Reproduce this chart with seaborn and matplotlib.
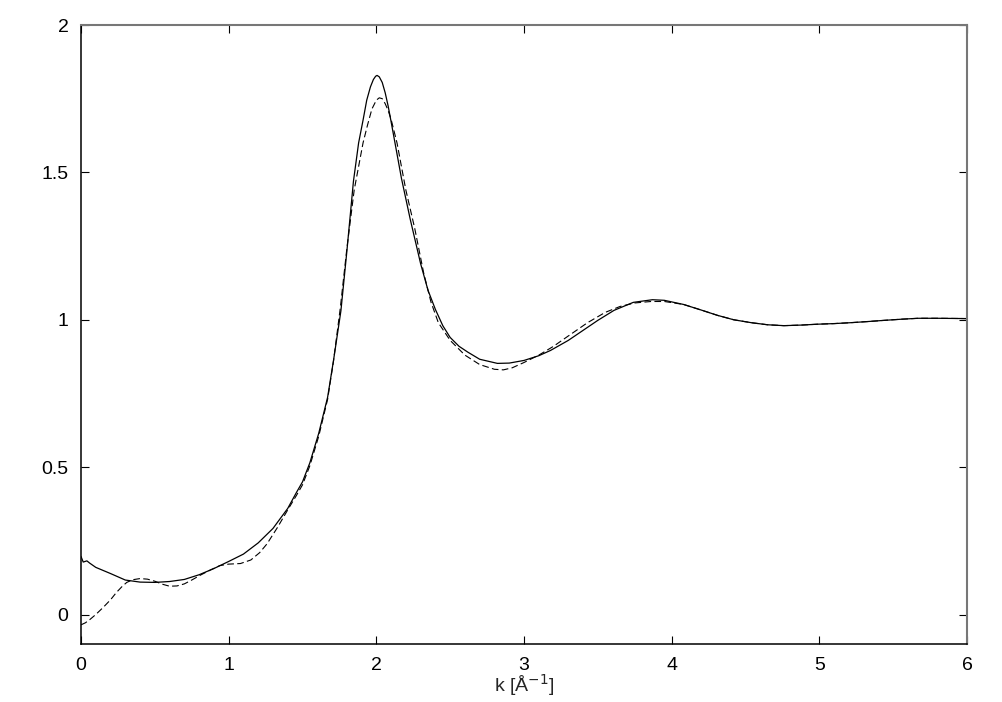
import matplotlib
matplotlib.use('Agg')
import matplotlib.pyplot as plt
import seaborn as sns
import pandas as pd

# --- data (k in 1/Angstrom, S(k)) ---
k_solid = [0.00, 0.015, 0.04, 0.06, 0.10, 0.20, 0.30, 0.40, 0.50, 0.60,
           0.70, 0.80, 0.90, 1.00, 1.10, 1.20, 1.30, 1.40, 1.46, 1.50,
           1.55, 1.61, 1.67, 1.71, 1.76, 1.80, 1.845, 1.88, 1.91, 1.935,
           1.96, 1.98, 1.995, 2.005, 2.02, 2.04, 2.06, 2.08, 2.10, 2.13,
           2.17, 2.23, 2.30, 2.35, 2.40, 2.45, 2.50, 2.56, 2.62, 2.70,
           2.82, 2.90, 3.00, 3.10, 3.18, 3.30, 3.40, 3.50, 3.61, 3.74,
           3.87, 3.95, 4.08, 4.20, 4.31, 4.42, 4.54, 4.65, 4.76, 4.88,
           4.99, 5.10, 5.21, 5.33, 5.44, 5.56, 5.67, 5.80, 6.00]
s_solid = [0.197, 0.178, 0.182, 0.174, 0.160, 0.139, 0.117, 0.110, 0.109, 0.112,
           0.119, 0.135, 0.156, 0.180, 0.205, 0.243, 0.292, 0.360, 0.415, 0.450,
           0.515, 0.615, 0.737, 0.862, 1.030, 1.230, 1.470, 1.600, 1.677, 1.745,
           1.790, 1.815, 1.826, 1.829, 1.824, 1.805, 1.770, 1.725, 1.672, 1.590,
           1.480, 1.340, 1.190, 1.100, 1.035, 0.980, 0.940, 0.910, 0.890, 0.866,
           0.852, 0.853, 0.862, 0.878, 0.896, 0.930, 0.964, 0.998, 1.032, 1.059,
           1.068, 1.066, 1.052, 1.033, 1.015, 1.000, 0.990, 0.983, 0.980, 0.982,
           0.985, 0.987, 0.990, 0.994, 0.998, 1.002, 1.005, 1.005, 1.004]

k_dashed = [0.00, 0.03, 0.06, 0.10, 0.15, 0.20, 0.24, 0.28, 0.31, 0.35,
            0.40, 0.45, 0.50, 0.55, 0.60, 0.65, 0.70, 0.75, 0.81, 0.88,
            0.94, 1.00, 1.08, 1.15, 1.21, 1.26, 1.33, 1.40, 1.46, 1.50,
            1.55, 1.61, 1.67, 1.71, 1.756, 1.80, 1.85, 1.91, 1.94, 1.97,
            2.00, 2.02, 2.04, 2.06, 2.08, 2.10, 2.14, 2.20, 2.26, 2.32,
            2.37, 2.42, 2.50, 2.60, 2.70, 2.80, 2.86, 2.92, 3.00, 3.10,
            3.20, 3.30, 3.43, 3.55, 3.65, 3.75, 3.86, 3.95, 4.08, 4.20,
            4.31, 4.42, 4.54, 4.65, 4.76, 4.88, 4.99, 5.10, 5.21, 5.33,
            5.44, 5.56, 5.67, 5.80, 6.00]
s_dashed = [-0.035, -0.028, -0.017, 0.000, 0.024, 0.050, 0.075, 0.096, 0.109, 0.118,
            0.122, 0.120, 0.113, 0.103, 0.096, 0.097, 0.104, 0.117, 0.134, 0.152,
            0.166, 0.171, 0.173, 0.185, 0.210, 0.240, 0.295, 0.355, 0.405, 0.440,
            0.505, 0.605, 0.730, 0.860, 1.040, 1.240, 1.440, 1.600, 1.660, 1.715,
            1.745, 1.753, 1.750, 1.733, 1.710, 1.680, 1.600, 1.440, 1.310, 1.160,
            1.060, 0.990, 0.930, 0.880, 0.848, 0.832, 0.830, 0.837, 0.855, 0.880,
            0.910, 0.945, 0.990, 1.025, 1.045, 1.057, 1.062, 1.062, 1.052, 1.033,
            1.015, 1.000, 0.990, 0.983, 0.980, 0.982, 0.985, 0.987, 0.990, 0.994,
            0.998, 1.002, 1.005, 1.005, 1.004]

x_ticks = [0, 1, 2, 3, 4, 5, 6]
y_ticks = [0, 0.5, 1, 1.5, 2]
y_tick_labels = ['0', '0.5', '1', '1.5', '2']

sns.set_style('ticks')
plt.rcParams['font.family'] = ['Liberation Sans', 'DejaVu Sans']

fig = plt.figure(figsize=(10.02, 7.02), dpi=100)
ax = fig.add_axes([81 / 1002, 58 / 702, 886 / 1002, 619 / 702])

df_solid = pd.DataFrame({'k': k_solid, 'S': s_solid})
df_dashed = pd.DataFrame({'k': k_dashed, 'S': s_dashed})

sns.lineplot(data=df_solid, x='k', y='S', ax=ax, color='black', lw=0.9,
             sort=False, estimator=None)
sns.lineplot(data=df_dashed, x='k', y='S', ax=ax, color='black', lw=0.8,
             sort=False, estimator=None, dashes=False, linestyle=(0, (6, 3)))

ax.set_xlim(0, 6)
ax.set_ylim(-0.1, 2)
ax.set_xticks(x_ticks)
ax.set_xticklabels([str(t) for t in x_ticks])
ax.set_yticks(y_ticks)
ax.set_yticklabels(y_tick_labels)
ax.tick_params(direction='in', length=6, width=0.8, labelsize=14,
               top=True, right=True, pad=9, colors='black')

for side in ['left', 'bottom']:
    ax.spines[side].set_color('black')
    ax.spines[side].set_linewidth(1.1)
for side in ['top', 'right']:
    ax.spines[side].set_visible(True)
    ax.spines[side].set_color('#777777')
    ax.spines[side].set_linewidth(1.5)

ax.set_ylabel('')
ax.set_xlabel('k [Å$^{-1}$]', fontsize=14)
ax.xaxis.set_label_coords(0.5, -0.046)

fig.savefig('out.png', dpi=100)
